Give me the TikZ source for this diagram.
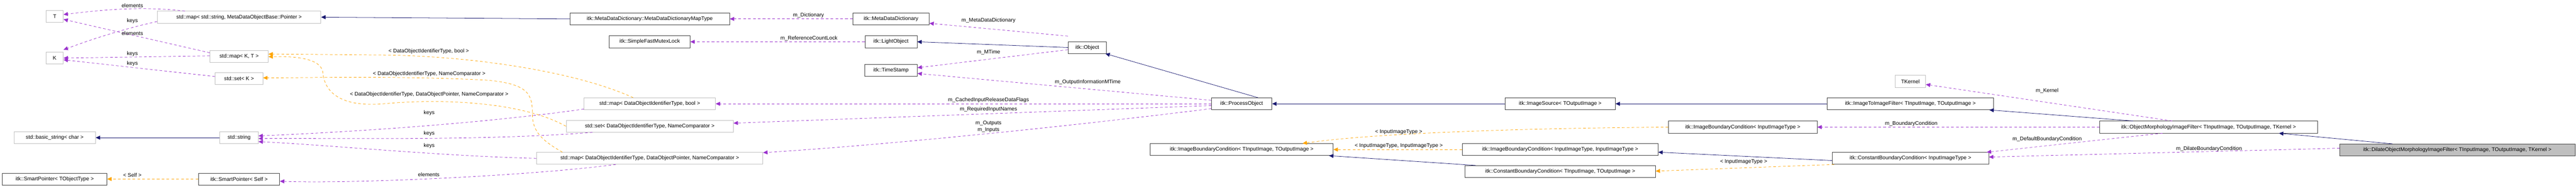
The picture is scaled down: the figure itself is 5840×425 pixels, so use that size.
\documentclass[tikz,border=0pt]{standalone}
\usepackage{fontspec}
\setmainfont{Liberation Sans}
\usetikzlibrary{arrows.meta}
\definecolor{pur}{HTML}{9A32CD}
\definecolor{org}{HTML}{FFA500}
\definecolor{nav}{HTML}{191970}
\definecolor{gbd}{HTML}{BFBFBF}
\begin{document}
\begin{tikzpicture}[x=1pt,y=-1pt,
  every node/.style={font=\fontsize{12}{14}\selectfont},
  cls/.style={draw=black!75,line width=0.9pt,minimum height=27pt,inner sep=0pt,fill=white},
  ext/.style={draw=gbd,line width=0.9pt,minimum height=27pt,inner sep=0pt,fill=white},
  tip/.style={-{Triangle[length=10pt,width=9pt]}},
  use/.style={tip,pur,dashed,dash pattern=on 6pt off 5pt,line width=0.9pt},
  tpl/.style={tip,org,dashed,dash pattern=on 6pt off 5pt,line width=0.9pt},
  inh/.style={tip,nav,line width=0.9pt},
  lab/.style={inner sep=1pt,align=center}]
\useasboundingbox (0,0) rectangle (5840,425);
% nodes
\node[ext,minimum width=39] (T) at (124,37) {T};
\node[ext,minimum width=39] (K) at (124,132) {K};
\node[ext,minimum width=371] (mapSP) at (542,39) {std::map< std::string, MetaDataObjectBase::Pointer >};
\node[ext,minimum width=132] (mapKT) at (542,128) {std::map< K, T >};
\node[ext,minimum width=108] (setK) at (542,179) {std::set< K >};
\node[ext,minimum width=185] (bstr) at (124,313) {std::basic\_string< char >};
\node[ext,minimum width=87] (str) at (542,313) {std::string};
\node[cls,minimum width=237] (spT) at (124,407) {itk::SmartPointer< TObjectType >};
\node[cls,minimum width=184] (spS) at (542,407) {itk::SmartPointer< Self >};
\node[cls,minimum width=362] (mapType) at (1473,43) {itk::MetaDataDictionary::MetaDataDictionaryMapType};
\node[cls,minimum width=183] (mutex) at (1473,95) {itk::SimpleFastMutexLock};
\node[ext,minimum width=298] (mapB) at (1473,236) {std::map< DataObjectIdentifierType, bool >};
\node[ext,minimum width=379] (setN) at (1473,287) {std::set< DataObjectIdentifierType, NameComparator >};
\node[ext,minimum width=513] (mapP) at (1473,360) {std::map< DataObjectIdentifierType, DataObjectPointer, NameComparator >};
\node[cls,minimum width=173] (mdd) at (2020,43) {itk::MetaDataDictionary};
\node[cls,minimum width=118] (light) at (2020,95) {itk::LightObject};
\node[cls,minimum width=119] (ts) at (2020,160) {itk::TimeStamp};
\node[cls,minimum width=87] (obj) at (2465,108) {itk::Object};
\node[cls,minimum width=137] (po) at (2815,236) {itk::ProcessObject};
\node[cls,minimum width=415] (ibcT) at (2815,340) {itk::ImageBoundaryCondition< TInputImage, TOutputImage >};
\node[cls,minimum width=250] (isrc) at (3537,236) {itk::ImageSource< TOutputImage >};
\node[cls,minimum width=444] (ibcII) at (3537,340) {itk::ImageBoundaryCondition< InputImageType, InputImageType >};
\node[cls,minimum width=432] (cbcT) at (3537,390) {itk::ConstantBoundaryCondition< TInputImage, TOutputImage >};
\node[cls,minimum width=337] (ibcI) at (3951,289) {itk::ImageBoundaryCondition< InputImageType >};
\node[cls,minimum width=377] (i2i) at (4331,236) {itk::ImageToImageFilter< TInputImage, TOutputImage >};
\node[cls,minimum width=355] (cbcI) at (4331,360) {itk::ConstantBoundaryCondition< InputImageType >};
\node[ext,minimum width=69] (tk) at (4331,185) {TKernel};
\node[cls,minimum width=494] (om) at (5007,289) {itk::ObjectMorphologyImageFilter< TInputImage, TOutputImage, TKernel >};
\node[cls,minimum width=533,fill=gbd] (dil) at (5571,341) {itk::DilateObjectMorphologyImageFilter< TInputImage, TOutputImage, TKernel >};
% inheritance
\draw[inh] (mapType.west) -- (mapSP.east);
\draw[inh] (str.west) -- (bstr.east);
\draw[inh] (obj.west) -- (light.east);
\draw[inh] ([xshift=-32]po.north east) -- ([xshift=-3]obj.south east);
\draw[inh] (isrc.west) -- (po.east);
\draw[inh] (i2i.west) -- (isrc.east);
\draw[inh] ([xshift=76]om.north west) -- ([xshift=-10]i2i.south east);
\draw[inh] ([xshift=120]dil.north west) -- ([xshift=-88]om.south east);
\draw[inh] ([xshift=25]cbcT.north west) -- ([xshift=-10]ibcT.south east);
\draw[inh] ([yshift=-5]cbcI.west) -- ([yshift=-6]ibcII.east);
% usage
\draw[use] ([xshift=63]mapSP.north west) .. controls (330,15) and (250,20) .. ([yshift=4]T.east);
\draw[use] ([yshift=-10]mapSP.west) .. controls (260,70) and (180,100) .. ([yshift=5]K.north east);
\draw[use] ([yshift=8]mapKT.west) -- ([yshift=-7]T.east);
\draw[use] ([yshift=1]mapKT.west) -- (K.east);
\draw[use] ([yshift=5]setK.west) -- ([yshift=-4]K.east);
\draw[use] ([yshift=-12]mapB.west) .. controls (1100,280) and (800,300) .. ([yshift=4]str.east);
\draw[use] ([xshift=60]setN.south west) .. controls (1100,320) and (800,314) .. ([yshift=-2]str.east);
\draw[use] (mapP.west) .. controls (1000,355) and (750,330) .. ([yshift=-9]str.east);
\draw[use] ([xshift=180]mapP.south west) .. controls (1200,400) and (800,418) .. ([yshift=-5]spS.east);
\draw[use] (mdd.west) -- (mapType.east);
\draw[use] (light.west) -- (mutex.east);
\draw[use] ([yshift=12]obj.north west) -- ([yshift=4]mdd.south east);
\draw[use] ([yshift=-5]obj.west) -- ([yshift=6]ts.east);
\draw[use] ([yshift=8]po.west) -- ([yshift=-7]ts.east);
\draw[use] (po.west) -- (mapB.east);
\draw[use] ([yshift=-4]po.west) -- ([yshift=7]setN.east);
\draw[use] ([yshift=-11]po.west) .. controls (2400,290) and (2000,330) .. ([yshift=-1]mapP.north east);
\draw[use] ([xshift=165]om.north west) -- ([yshift=-7]tk.east);
\draw[use] (om.west) -- (ibcI.east);
\draw[use] ([xshift=143]om.south west) -- ([xshift=-5]cbcI.north east);
\draw[use] ([yshift=4]dil.west) -- ([yshift=3]cbcI.east);
% templates
\draw[tpl] (spS.west) -- (spT.east);
\draw[tpl] ([xshift=112]mapB.north west) .. controls (1300,160) and (1050,125) .. (850,125) .. controls (750,124) and (660,123) .. ([yshift=5]mapKT.east);
\draw[tpl] (setN.west) .. controls (1180,230) and (1000,225) .. (880,235) .. controls (760,248) and (735,200) .. (732,165) .. controls (728,130) and (660,128) .. ([yshift=-1]mapKT.east);
\draw[tpl] ([xshift=59]mapP.north west) .. controls (1230,320) and (1207,300) .. (1207,260) .. controls (1207,215) and (1200,190) .. (1100,182) .. controls (900,172) and (700,177) .. ([yshift=2]setK.east);
\draw[tpl] (ibcI.west) .. controls (3400,292) and (3100,305) .. ([xshift=-70]ibcT.north east);
\draw[tpl] (ibcII.west) -- (ibcT.east);
\draw[tpl] ([xshift=5]cbcI.south west) -- ([yshift=1]cbcT.east);
% labels
\node[lab] (l1) at (300,13) {elements};
\node[lab] (l2) at (300,48) {keys};
\node[lab] (l3) at (300,76) {elements};
\node[lab] (l4) at (300,123) {keys};
\node[lab] (l5) at (300,145) {keys};
\node[lab] (l6) at (300,398) {< Self >};
\node[lab] (l7) at (972,117) {< DataObjectIdentifierType, bool >};
\node[lab] (l8) at (973,168) {< DataObjectIdentifierType, NameComparator >};
\node[lab] (l9) at (973,215) {< DataObjectIdentifierType, DataObjectPointer, NameComparator >};
\node[lab] (l10) at (973,257) {keys};
\node[lab] (l11) at (973,303) {keys};
\node[lab] (l12) at (973,331) {keys};
\node[lab] (l13) at (972,397) {elements};
\node[lab] (l14) at (1833,35) {m\_Dictionary};
\node[lab] (l15) at (1834,87) {m\_ReferenceCountLock};
\node[lab] (l16) at (2241,47) {m\_MetaDataDictionary};
\node[lab] (l17) at (2241,119) {m\_MTime};
\node[lab] (l18) at (2466,187) {m\_OutputInformationMTime};
\node[lab] (l19) at (2241,228) {m\_CachedInputReleaseDataFlags};
\node[lab] (l20) at (2241,249) {m\_RequiredInputNames};
\node[lab,font=\fontsize{12}{16}\selectfont] (l21) at (2241,288) {m\_Outputs\\m\_Inputs};
\node[lab] (l22) at (3171,300) {< InputImageType >};
\node[lab] (l23) at (3171,332) {< InputImageType, InputImageType >};
\node[lab] (l24) at (3953,368) {< InputImageType >};
\node[lab] (l25) at (4641,207) {m\_Kernel};
\node[lab] (l26) at (4333,281) {m\_BoundaryCondition};
\node[lab] (l27) at (4641,316) {m\_DefaultBoundaryCondition};
\node[lab] (l28) at (5008,339) {m\_DilateBoundaryCondition};
\end{tikzpicture}
\end{document}
